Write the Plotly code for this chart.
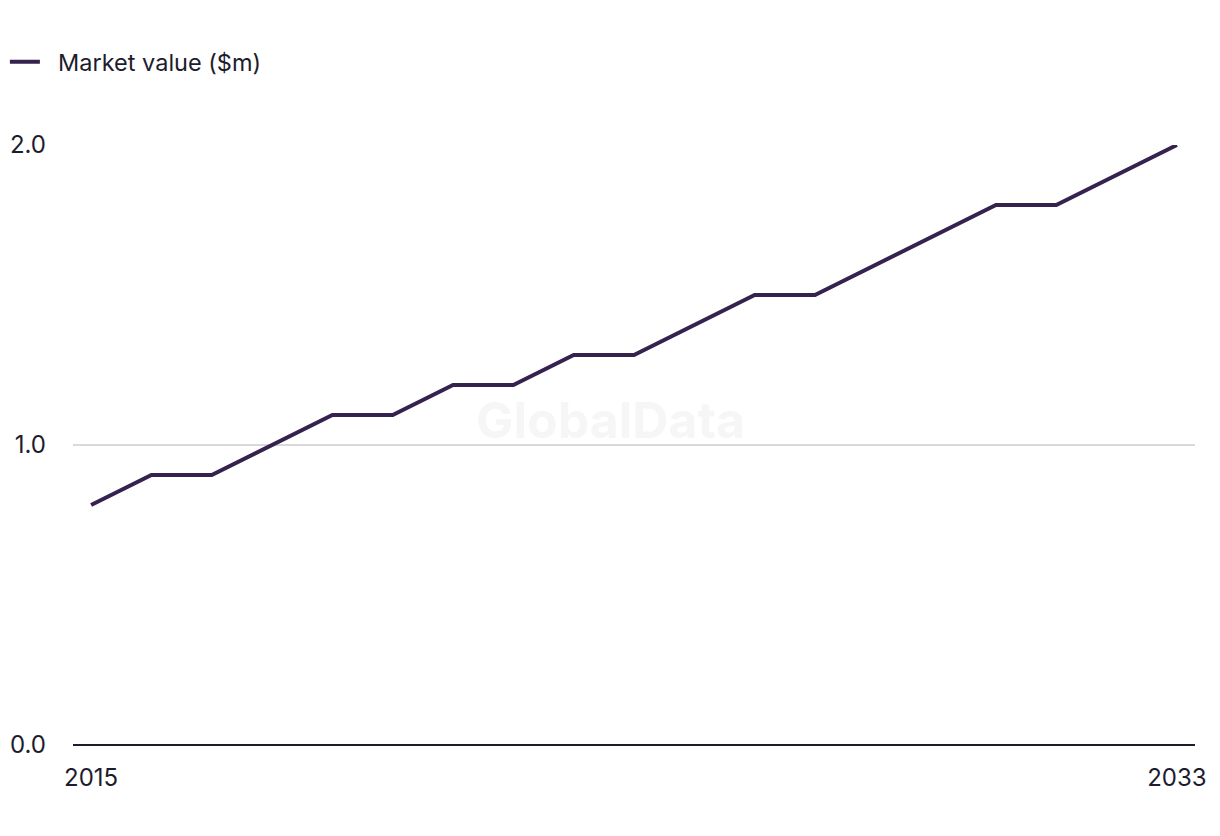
import plotly.graph_objects as go

years = list(range(2015, 2034))
market_value = [0.8, 0.9, 0.9, 1.0, 1.1, 1.1, 1.2, 1.2, 1.3, 1.3,
                1.4, 1.5, 1.5, 1.6, 1.7, 1.8, 1.8, 1.9, 2.0]
x_ticks = [2015, 2033]
y_ticks = [0, 1, 2]
y_tick_labels = ["0.0", "1.0", "2.0"]

LINE = "#35224f"
TEXT = "#1c1c2e"
FONT = "Inter, Roboto, sans-serif"

fig = go.Figure()
fig.add_trace(go.Scatter(
    x=years, y=market_value, mode="lines",
    name="\u00a0\u00a0Market value ($m)",
    line=dict(color=LINE, width=4), showlegend=True,
))

fig.add_annotation(
    text="<b>GlobalData</b>", x=0.479, y=0.542, xref="paper", yref="paper",
    showarrow=False, font=dict(family=FONT, size=50, color="#f6f6f6"),
)

fig.update_layout(
    width=1220, height=836,
    margin=dict(l=73, r=25, t=145, b=91, autoexpand=False),
    paper_bgcolor="white", plot_bgcolor="white",
    font=dict(family=FONT, size=23, color=TEXT),
    showlegend=True,
    legend=dict(orientation="h", xref="container", yref="container",
                x=0.004, xanchor="left", y=0.926, yanchor="middle",
                font=dict(size=23.5, color=TEXT), itemwidth=30,
                bgcolor="rgba(0,0,0,0)"),
    xaxis=dict(range=[2014.7, 2033.3], tickvals=x_ticks, ticktext=[str(v) for v in x_ticks],
               showgrid=False, zeroline=False, showline=False, ticks="",
               ticklabelstandoff=16, automargin=False,
               tickfont=dict(size=24, color=TEXT)),
    yaxis=dict(range=[0, 2.0], tickvals=y_ticks, ticktext=y_tick_labels,
               showgrid=True, gridcolor="#d9d9d9", gridwidth=1.5,
               zeroline=True, zerolinecolor=TEXT, zerolinewidth=2,
               showline=False, ticks="", ticklabelstandoff=26, automargin=False,
               tickfont=dict(size=24, color=TEXT)),
)

fig.write_html("out.html")
